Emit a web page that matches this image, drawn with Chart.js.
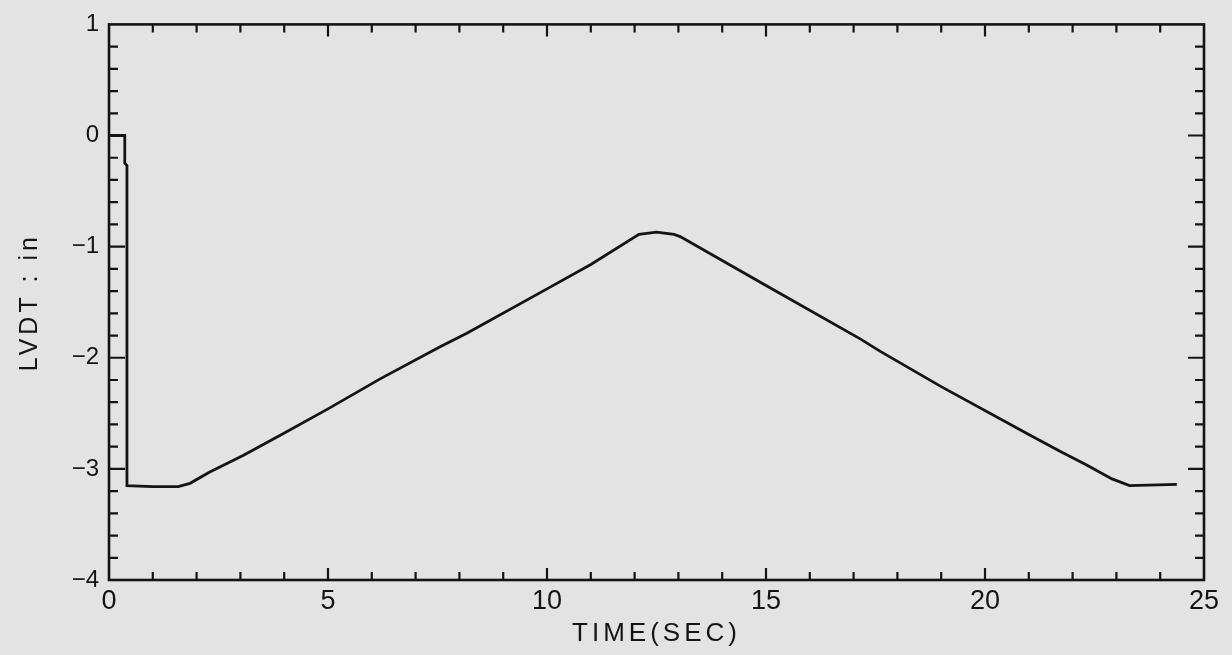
<!DOCTYPE html>
<html>
<head>
<meta charset="utf-8">
<script src="https://cdn.jsdelivr.net/npm/chart.js@4/dist/chart.umd.min.js"></script>
<style>
  html, body { margin: 0; padding: 0; background: #e3e3e3; }
  #wrap { width: 1232px; height: 655px; position: relative; }
</style>
</head>
<body>
<div id="wrap"><canvas id="c" width="1232" height="655"></canvas></div>
<script>
// ---- data ----
const timeSec = [0, 0.36, 0.36, 0.41, 0.41, 1.0, 1.58, 1.85, 2.29, 3.06, 3.9, 5.0, 6.19, 7.56, 8.17, 10.0, 11.0, 12.1, 12.5, 12.9, 13.04, 15.0, 17.15, 17.6, 19.0, 21.0, 21.7, 22.3, 22.9, 23.3, 24.38];
const lvdtIn  = [0, 0, -0.25, -0.27, -3.15, -3.16, -3.16, -3.13, -3.03, -2.88, -2.70, -2.46, -2.19, -1.90, -1.78, -1.38, -1.16, -0.89, -0.87, -0.89, -0.91, -1.35, -1.83, -1.94, -2.26, -2.69, -2.84, -2.96, -3.09, -3.15, -3.14];
const xTickValues = [0, 5, 10, 15, 20, 25];
const xTickLabels = ['0', '5', '10', '15', '20', '25'];
const yTickValues = [1, 0, -1, -2, -3, -4];
const yTickLabels = ['1', '0', '\u22121', '\u22122', '\u22123', '\u22124'];
const xTitle = 'TIME(SEC)';
const yTitle = 'LVDT : in';

const INK = '#141414';
const FONT = 'Liberation Sans, Arial, sans-serif';

// spaced-out plotter lettering for the axis titles only
function spacedTitle(s) {
  if (s._spaced) return;
  s._spaced = true;
  s.drawTitle = function () {
    const c = this.ctx;
    const prev = c.letterSpacing;
    c.letterSpacing = '4px';
    Object.getPrototypeOf(this).drawTitle.call(this);
    c.letterSpacing = prev;
  };
}

const frameTicks = {
  id: 'frameTicks',
  afterDatasetsDraw(chart) {
    const { ctx, chartArea: a, scales: { x, y } } = chart;
    ctx.save();
    ctx.strokeStyle = INK;
    ctx.lineWidth = 2.6;
    ctx.lineCap = 'butt';
    ctx.strokeRect(a.left, a.top, a.right - a.left, a.bottom - a.top);
    ctx.lineWidth = 2.2;
    for (let t = 1; t < 25; t++) {
      const px = x.getPixelForValue(t);
      const len = (t % 5 === 0) ? 12 : 8;
      ctx.beginPath();
      ctx.moveTo(px, a.bottom); ctx.lineTo(px, a.bottom - len);
      ctx.moveTo(px, a.top); ctx.lineTo(px, a.top + len);
      ctx.stroke();
    }
    for (let k = -19; k < 5; k++) {
      const v = k / 5;
      const py = y.getPixelForValue(v);
      const len = (k % 5 === 0) ? 16 : 9;
      ctx.beginPath();
      ctx.moveTo(a.left, py); ctx.lineTo(a.left + len, py);
      ctx.moveTo(a.right, py); ctx.lineTo(a.right - len, py);
      ctx.stroke();
    }
    ctx.restore();
  }
};

new Chart(document.getElementById('c'), {
  type: 'scatter',
  data: {
    datasets: [{
      data: timeSec.map((t, i) => ({ x: t, y: lvdtIn[i] })),
      showLine: true,
      borderColor: INK,
      borderWidth: 2.8,
      pointRadius: 0,
      tension: 0,
      fill: false
    }]
  },
  options: {
    responsive: false,
    animation: false,
    layout: { padding: { top: 21, right: 28, left: 0, bottom: 0 } },
    plugins: { legend: { display: false }, tooltip: { enabled: false } },
    scales: {
      x: {
        type: 'linear', min: 0, max: 25,
        afterBuildTicks: s => { s.ticks = xTickValues.map(v => ({ value: v })); },
        afterFit: s => { s.height = 75; spacedTitle(s); },
        grid: { display: false, drawTicks: false },
        border: { display: false },
        ticks: {
          color: INK, padding: 5,
          font: { family: FONT, size: 27 },
          callback: (v) => xTickLabels[xTickValues.indexOf(v)]
        },
        title: {
          display: true, text: xTitle, color: INK,
          font: { family: FONT, size: 26 },
          padding: { top: 0, bottom: 6 }
        }
      },
      y: {
        type: 'linear', min: -4, max: 1,
        afterBuildTicks: s => { s.ticks = yTickValues.map(v => ({ value: v })); },
        afterFit: s => { s.width = 109; spacedTitle(s); },
        grid: { display: false, drawTicks: false },
        border: { display: false },
        ticks: {
          color: INK, padding: 10,
          font: { family: FONT, size: 24 },
          callback: (v) => yTickLabels[yTickValues.indexOf(v)]
        },
        title: {
          display: true, text: yTitle, color: INK,
          font: { family: FONT, size: 25 },
          padding: { top: 15, bottom: 0 }
        }
      }
    }
  },
  plugins: [frameTicks]
});
</script>
</body>
</html>
